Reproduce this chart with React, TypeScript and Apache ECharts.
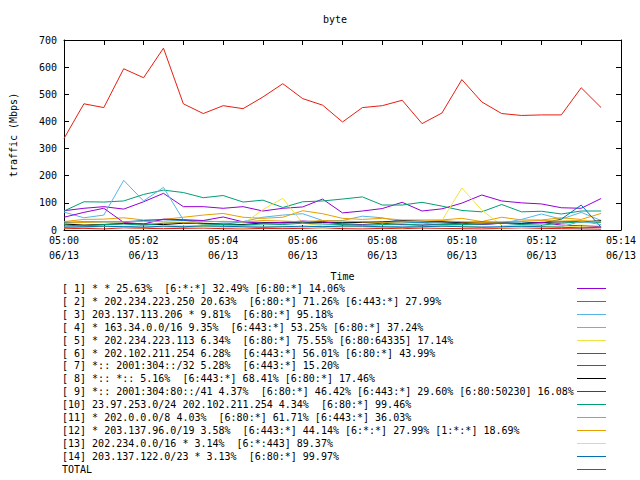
import React, { useEffect, useRef } from "react";
import * as echarts from "echarts";

const TIMES = [
  "05:00:00", "05:00:30", "05:01:00", "05:01:30", "05:02:00", "05:02:30", "05:03:00",
  "05:03:30", "05:04:00", "05:04:30", "05:05:00", "05:05:30", "05:06:00", "05:06:30",
  "05:07:00", "05:07:30", "05:08:00", "05:08:30", "05:09:00", "05:09:30", "05:10:00",
  "05:10:30", "05:11:00", "05:11:30", "05:12:00", "05:12:30", "05:13:00", "05:13:30",
];
const DATE_LABEL = "06/13";
const X_MIN = 0;
const X_MAX = 14;
const Y_MAX = 700;

const NAMES = [
  "[ 1] * * 25.63%  [6:*:*] 32.49% [6:80:*] 14.06%",
  "[ 2] * 202.234.223.250 20.63%  [6:80:*] 71.26% [6:443:*] 27.99%",
  "[ 3] 203.137.113.206 * 9.81%  [6:80:*] 95.18%",
  "[ 4] * 163.34.0.0/16 9.35%  [6:443:*] 53.25% [6:80:*] 37.24%",
  "[ 5] * 202.234.223.113 6.34%  [6:80:*] 75.55% [6:80:64335] 17.14%",
  "[ 6] * 202.102.211.254 6.28%  [6:443:*] 56.01% [6:80:*] 43.99%",
  "[ 7] *:: 2001:304::/32 5.28%  [6:443:*] 15.20%",
  "[ 8] *:: *:: 5.16%  [6:443:*] 68.41% [6:80:*] 17.46%",
  "[ 9] *:: 2001:304:80::/41 4.37%  [6:80:*] 46.42% [6:443:*] 29.60% [6:80:50230] 16.08%",
  "[10] 23.97.253.0/24 202.102.211.254 4.34%  [6:80:*] 99.46%",
  "[11] * 202.0.0.0/8 4.03%  [6:80:*] 61.71% [6:443:*] 36.03%",
  "[12] * 203.137.96.0/19 3.58%  [6:443:*] 44.14% [6:*:*] 27.99% [1:*:*] 18.69%",
  "[13] 202.234.0.0/16 * 3.14%  [6:*:443] 89.37%",
  "[14] 203.137.122.0/23 * 3.13%  [6:80:*] 99.97%",
  "TOTAL",
];

const COLORS = [
  "#9400d3", "#009e73", "#56b4e9", "#e69f00", "#f0e442", "#0072b2", "#e51e10", "#000000",
  "#9400d3", "#009e73", "#56b4e9", "#e69f00", "#f0e442", "#0072b2", "#e51e10",
];

const S1 = [71, 80, 86, 77, 104, 135, 86, 86, 80, 86, 70, 80, 85, 114, 63, 70, 79, 102, 70, 78, 99, 129, 107, 100, 96, 82, 80, 116];
const S2 = [70, 104, 103, 107, 131, 147, 138, 119, 127, 103, 110, 83, 104, 107, 114, 122, 92, 92, 102, 88, 72, 67, 94, 67, 69, 59, 70, 70];
const S3 = [66, 45, 55, 183, 107, 157, 37, 25, 20, 31, 47, 55, 60, 35, 35, 51, 45, 30, 25, 20, 22, 20, 25, 39, 59, 40, 65, 35];
const S4 = [31, 39, 40, 45, 37, 39, 47, 55, 61, 47, 43, 47, 71, 60, 43, 39, 43, 37, 37, 37, 43, 31, 47, 37, 37, 45, 39, 61];
const S5 = [20, 18, 22, 25, 20, 18, 15, 18, 15, 22, 75, 117, 25, 15, 12, 15, 18, 20, 25, 35, 155, 73, 17, 15, 12, 15, 18, 15];
const S6 = [28, 30, 30, 30, 35, 38, 35, 33, 30, 30, 28, 25, 28, 30, 28, 30, 28, 30, 28, 30, 28, 30, 28, 30, 25, 40, 92, 10];
const S7 = [5, 6, 4, 8, 6, 5, 6, 7, 5, 4, 6, 5, 6, 8, 5, 4, 6, 5, 7, 6, 5, 4, 6, 8, 6, 5, 4, 3];
const S8 = [22, 18, 20, 24, 22, 20, 25, 24, 22, 20, 26, 28, 30, 28, 26, 28, 30, 34, 32, 30, 28, 26, 25, 24, 28, 30, 30, 34];
const S9 = [47, 65, 80, 28, 22, 40, 38, 35, 48, 30, 25, 28, 33, 30, 22, 20, 25, 20, 18, 22, 25, 20, 25, 22, 28, 18, 15, 12];
const S10 = [18, 15, 20, 22, 18, 25, 28, 22, 20, 18, 22, 20, 25, 22, 20, 18, 20, 22, 18, 20, 20, 22, 25, 20, 18, 25, 30, 28];
const S11 = [12, 10, 14, 12, 15, 12, 10, 14, 12, 16, 14, 12, 10, 12, 14, 12, 10, 14, 12, 16, 14, 12, 10, 12, 14, 12, 32, 20];
const S12 = [25, 28, 30, 30, 32, 30, 28, 30, 32, 30, 35, 33, 30, 35, 33, 30, 28, 30, 32, 35, 30, 28, 30, 32, 35, 33, 35, 30];
const S13 = [8, 10, 12, 10, 8, 12, 15, 12, 10, 8, 10, 12, 10, 8, 10, 12, 10, 8, 12, 15, 12, 10, 8, 10, 12, 15, 12, 10];
const S14 = [10, 12, 14, 12, 10, 14, 12, 15, 14, 12, 10, 12, 14, 12, 15, 14, 12, 10, 12, 14, 12, 10, 12, 14, 12, 10, 8, 10];
const TOTAL = [337, 465, 451, 594, 561, 670, 465, 429, 458, 447, 490, 539, 484, 460, 398, 451, 458, 478, 392, 431, 554, 472, 429, 422, 424, 424, 524, 451];

const SERIES_VALUES = [S1, S2, S3, S4, S5, S6, S7, S8, S9, S10, S11, S12, S13, S14, TOTAL];

const FONT = "'DejaVu Sans Mono', 'Liberation Mono', monospace";

function toMinutes(t: string): number {
  const [h, m, s] = t.split(":").map(Number);
  return (h - 5) * 60 + m + s / 60;
}

export default function App() {
  const ref = useRef<HTMLDivElement>(null);
  useEffect(() => {
    if (!ref.current) return;
    const chart = echarts.init(ref.current, undefined, { renderer: "svg" });
    const xs = TIMES.map(toMinutes);

    const gridLeft = 52;
    const gridTop = 40;
    const gridW = 569;
    const gridH = 190;

    const axisLine = { show: true, onZero: false, lineStyle: { color: "#000", width: 1 } };
    const tick = { show: true, inside: true, length: 5, lineStyle: { color: "#000" } };

    const legendTop = 288;
    const rowH = 12.9;
    const graphics: any[] = [];
    NAMES.forEach((n, i) => {
      const y = Math.round(legendTop + rowH * i);
      graphics.push({
        type: "text",
        x: 62,
        y: y,
        style: {
          text: n,
          font: `10px ${FONT}`,
          fill: "#000",
          textAlign: "left",
          textVerticalAlign: "middle",
          verticalAlign: "middle",
        },
        silent: true,
      });
      graphics.push({
        type: "line",
        shape: { x1: 577, y1: y + 0.5, x2: 606, y2: y + 0.5 },
        style: { stroke: COLORS[i], lineWidth: 1 },
        silent: true,
      });
    });

    chart.setOption({
      animation: false,
      backgroundColor: "#fff",
      textStyle: { fontFamily: FONT },
      title: {
        text: "byte",
        left: 323,
        top: 14,
        textStyle: { fontFamily: FONT, fontSize: 10, fontWeight: "normal", color: "#000" },
        padding: 0,
      },
      grid: { left: gridLeft, top: gridTop, width: gridW, height: gridH, containLabel: false },
      xAxis: [
        {
          type: "value",
          min: X_MIN,
          max: X_MAX,
          interval: 1,
          position: "bottom",
          name: "Time",
          nameLocation: "middle",
          nameGap: 41,
          nameTextStyle: { fontFamily: FONT, fontSize: 10, color: "#000" },
          axisLine,
          axisTick: tick,
          splitLine: { show: false },
          axisLabel: {
            fontFamily: FONT,
            fontSize: 10,
            color: "#000",
            lineHeight: 15,
            margin: 3,
            showMinLabel: true,
            showMaxLabel: true,
            formatter: (v: number) =>
              v % 2 === 0 ? `05:${String(v).padStart(2, "0")}\n${DATE_LABEL}` : "",
          },
        },
        {
          type: "value",
          min: X_MIN,
          max: X_MAX,
          interval: 1,
          position: "top",
          axisLine,
          axisTick: tick,
          splitLine: { show: false },
          axisLabel: { show: false },
        },
      ],
      yAxis: [
        {
          type: "value",
          min: 0,
          max: Y_MAX,
          interval: 100,
          position: "left",
          name: "traffic (Mbps)",
          nameLocation: "middle",
          nameGap: 46,
          nameTextStyle: { fontFamily: FONT, fontSize: 10, color: "#000" },
          axisLine,
          axisTick: tick,
          splitLine: { show: false },
          axisLabel: { fontFamily: FONT, fontSize: 10, color: "#000", margin: 7 },
        },
        {
          type: "value",
          min: 0,
          max: Y_MAX,
          interval: 100,
          position: "right",
          axisLine,
          axisTick: tick,
          splitLine: { show: false },
          axisLabel: { show: false },
        },
      ],
      series: SERIES_VALUES.map((vals, i) => ({
        type: "line",
        name: NAMES[i],
        xAxisIndex: 0,
        yAxisIndex: 0,
        data: vals.map((v, j) => [xs[j], v]),
        showSymbol: false,
        symbol: "none",
        lineStyle: { color: COLORS[i], width: 1 },
        itemStyle: { color: COLORS[i] },
        z: 2 + i * 0.01,
      })),
      graphic: graphics,
    });
    return () => chart.dispose();
  }, []);
  return (
    <div
      ref={ref}
      style={{ position: "absolute", left: 0, top: 0, width: 640, height: 480, background: "#fff" }}
    />
  );
}
